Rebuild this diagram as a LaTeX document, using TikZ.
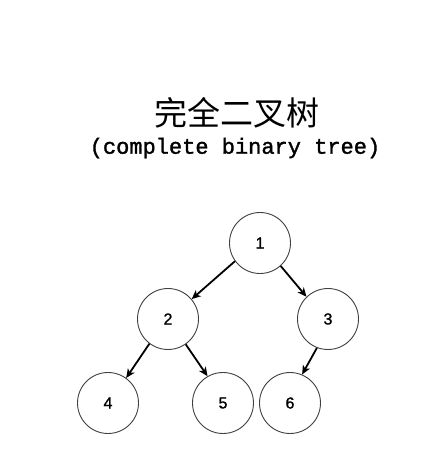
\documentclass[tikz,border=0pt]{standalone}
\usepackage{fontspec}
\setmainfont[BoldFont=Liberation Sans,BoldFeatures={FakeBold=1.2}]{Liberation Sans}
\newfontfamily\cjk{Noto Sans CJK SC}
\newfontfamily\monofont[BoldFont=Liberation Mono,BoldFeatures={FakeBold=1.5}]{Liberation Mono}
\usetikzlibrary{arrows.meta}
\begin{document}
\begin{tikzpicture}[x=1pt,y=-1pt,
  treenode/.style={circle,draw=black!75,line width=0.9pt,minimum size=61pt,inner sep=0pt,font=\fontsize{16}{16}\selectfont\bfseries},
  edge/.style={line width=1.8pt,-{Stealth[length=9pt,width=8pt,inset=2.5pt]}}]
\useasboundingbox (0,0) rectangle (444,451);
\node (title) at (237,113) {\cjk\fontsize{33}{33}\selectfont 完全二叉树};
\node (sub) at (235,148) {\monofont\bfseries\fontsize{22}{22}\selectfont (complete binary tree)};
\node[treenode] (n1) at (260,243) {1};
\node[treenode] (n2) at (168,319) {2};
\node[treenode] (n3) at (328,319) {3};
\node[treenode] (n4) at (108,403) {4};
\node[treenode] (n5) at (223,403) {5};
\node[treenode] (n6) at (290,403) {6};
\draw[edge] (n1.216) -- (n2.40);
\draw[edge] (n1.-48) -- (n3.134);
\draw[edge] (n2.233) -- (n4.54);
\draw[edge] (n2.-55) -- (n5.120);
\draw[edge] (n3.249) -- (n6.67);
\end{tikzpicture}
\end{document}
